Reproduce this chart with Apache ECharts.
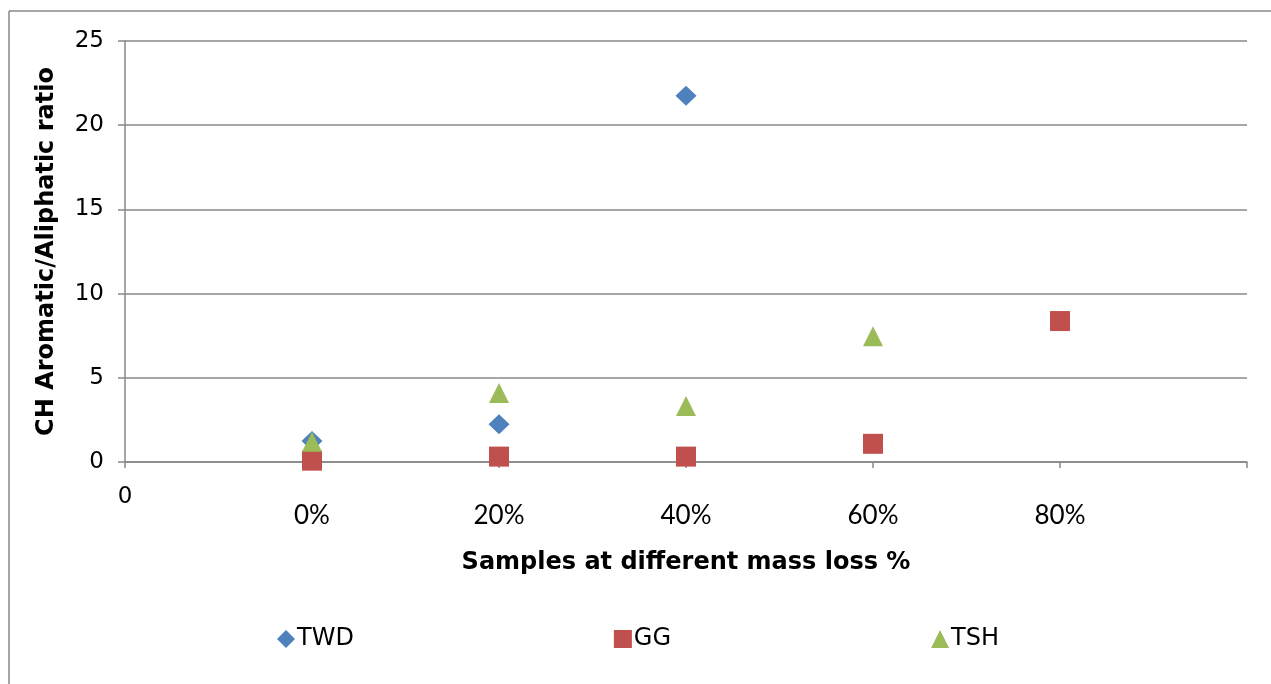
<!DOCTYPE html>
<html>
<head>
<meta charset="utf-8">
<script src="https://cdn.jsdelivr.net/npm/echarts@6/dist/echarts.min.js"></script>
<style>html,body{margin:0;padding:0;background:#fff;}#c{width:1271px;height:684px;}</style>
</head>
<body>
<div id="c"></div>
<script>
// x positions 1..5 correspond to these categories
var categories = ['0%', '20%', '40%', '60%', '80%'];
var tickLabels = ['0', '0%', '20%', '40%', '60%', '80%', ''];
var seriesNames = ['TWD', 'GG', 'TSH'];
var twd = [1.25, 2.24, 21.75];
var gg = [0.08, 0.32, 0.32, 1.08, 8.37];
var tsh = [1.2, 4.1, 3.32, 7.46];

function toPoints(vals) {
  return vals.map(function (v, i) { return [i + 1, v]; });
}

var chart = echarts.init(document.getElementById('c'), null, { renderer: 'canvas' });
var gray = '#888888';
var sans = 'DejaVu Sans';
chart.setOption({
  backgroundColor: '#fff',
  animation: false,
  grid: { left: 125, right: 24, top: 41, bottom: 222, containLabel: false },
  xAxis: {
    type: 'value', min: 0, max: 6, interval: 1,
    name: 'Samples at different mass loss %',
    nameLocation: 'middle', nameGap: 89,
    nameTextStyle: { fontFamily: sans, fontWeight: 'bold', fontSize: 24, color: '#000' },
    axisLine: { show: true, onZero: false, lineStyle: { color: gray, width: 1.5 } },
    axisTick: { show: true, length: 6, lineStyle: { color: gray, width: 1.5 } },
    splitLine: { show: false },
    axisLabel: {
      margin: 24,
      formatter: function (v) {
        var lbl = tickLabels[Math.round(v)] || '';
        if (lbl === '') return '';
        return Math.round(v) === 0 ? '{z|' + lbl + '}' : '{p|' + lbl + '}';
      },
      rich: {
        z: { fontFamily: sans, fontSize: 23, color: '#000' },
        p: { fontFamily: 'Lato', fontSize: 26, color: '#000', padding: [17, 0, 0, 0] }
      }
    }
  },
  yAxis: {
    type: 'value', min: 0, max: 25, interval: 5,
    name: 'CH Aromatic/Aliphatic ratio',
    nameLocation: 'middle', nameGap: 66,
    nameTextStyle: { fontFamily: sans, fontWeight: 'bold', fontSize: 24, color: '#000' },
    axisLine: { show: true, lineStyle: { color: gray, width: 1.5 } },
    axisTick: { show: true, length: 7, lineStyle: { color: gray, width: 1.5 } },
    splitLine: { show: true, lineStyle: { color: gray, width: 1.5 } },
    axisLabel: { margin: 21, fontFamily: sans, fontSize: 23, color: '#000' }
  },
  legend: {
    top: 622, left: 272, itemGap: 260, itemWidth: 18, itemHeight: 18,
    textStyle: { fontFamily: sans, fontSize: 24, color: '#000', padding: [0, 0, 0, -3] },
    data: [
      { name: seriesNames[0], icon: 'diamond' },
      { name: seriesNames[1], icon: 'rect' },
      { name: seriesNames[2], icon: 'triangle' }
    ]
  },
  graphic: [
    { type: 'line', shape: { x1: 9, y1: 11, x2: 1271, y2: 11 }, style: { stroke: gray, lineWidth: 1.5 } },
    { type: 'line', shape: { x1: 9, y1: 11, x2: 9, y2: 684 }, style: { stroke: gray, lineWidth: 1.5 } }
  ],
  series: [
    { name: seriesNames[0], type: 'scatter', symbol: 'diamond', symbolSize: [21, 20], data: toPoints(twd), itemStyle: { color: '#4F81BD', opacity: 1 } },
    { name: seriesNames[1], type: 'scatter', symbol: 'rect', symbolSize: [20, 20], data: toPoints(gg), itemStyle: { color: '#C0504D', opacity: 1 } },
    { name: seriesNames[2], type: 'scatter', symbol: 'triangle', symbolSize: [20, 20], data: toPoints(tsh), itemStyle: { color: '#9BBB59', opacity: 1 } }
  ]
});
</script>
</body>
</html>
